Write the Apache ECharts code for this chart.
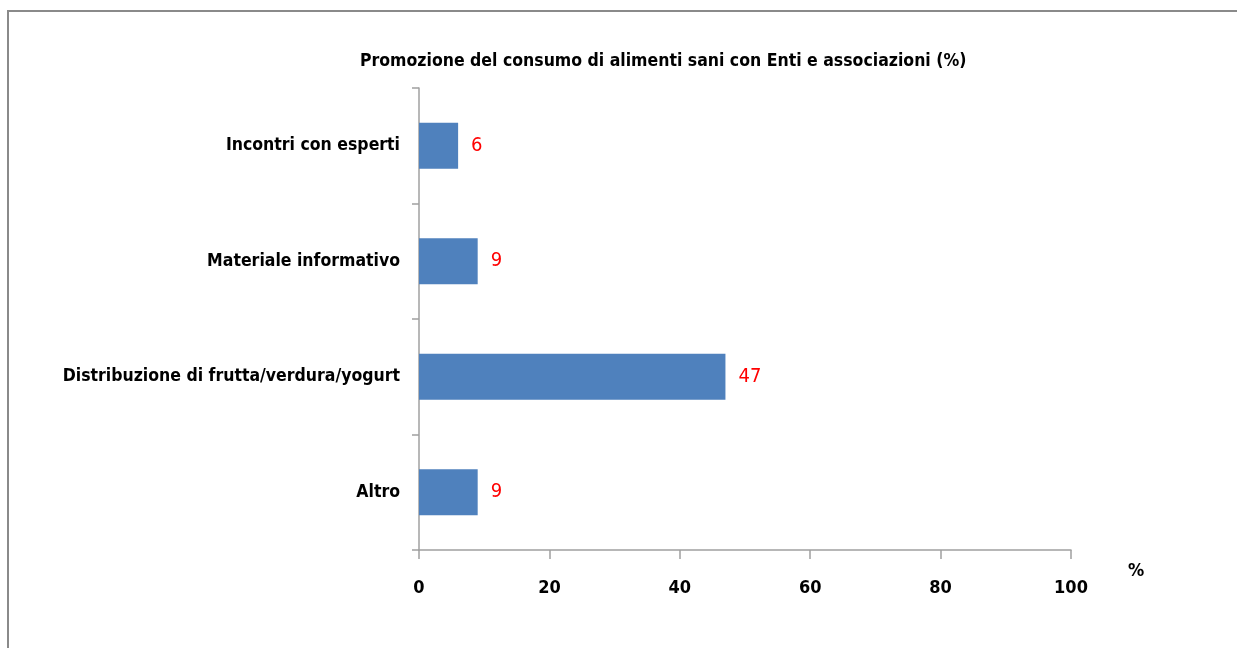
<!DOCTYPE html>
<html>
<head>
<meta charset="utf-8">
<script src="https://cdn.jsdelivr.net/npm/echarts@6/dist/echarts.min.js"></script>
<style>
    html, body { margin: 0; padding: 0; background: #fff; }
    #frame { position: absolute; left: 7px; top: 10px; width: 1240px; height: 650px;
             border-left: 2px solid #8a8a8a; border-top: 2px solid #8a8a8a; }
    #chart { position: absolute; left: 0; top: 0; width: 1237px; height: 648px; }
</style>
</head>
<body>
<div id="frame"></div>
<div id="chart"></div>
<script>
    // valori
    var categories = ['Incontri con esperti', 'Materiale informativo', 'Distribuzione di frutta/verdura/yogurt', 'Altro'];
    var values = [6, 9, 47, 9];
    var titleText = 'Promozione del consumo di alimenti sani con Enti e associazioni (%)';
    var unitText = '%';

    var font = '"DejaVu Sans Condensed", "Liberation Sans Narrow", sans-serif';
    var axisGrey = '#a0a0a0';

    var myChart = echarts.init(document.getElementById('chart'));
    var option = {
        animation: false,
        title: {
            text: titleText,
            left: 355,
            top: 47,
            textStyle: { fontFamily: font, fontSize: 17.5, fontWeight: 'bold', color: '#000' }
        },
        grid: { left: 419, right: 166, top: 88, bottom: 98 },
        graphic: [
            {
                type: 'text',
                left: 1128,
                top: 562,
                style: { text: unitText, fontFamily: font, fontSize: 18, fontWeight: 'bold', fill: '#000' }
            }
        ],
        xAxis: {
            type: 'value',
            min: 0,
            max: 100,
            interval: 20,
            axisLine: { show: true, lineStyle: { color: axisGrey, width: 1.5 } },
            axisTick: { show: true, length: 9, lineStyle: { color: axisGrey, width: 1.5 } },
            axisLabel: { margin: 29, fontFamily: font, fontSize: 18, fontWeight: 'bold', color: '#000' },
            splitLine: { show: false }
        },
        yAxis: {
            type: 'category',
            inverse: true,
            data: categories,
            axisLine: { show: true, lineStyle: { color: axisGrey, width: 1.5 } },
            axisTick: { show: true, length: 7, alignWithLabel: false, lineStyle: { color: axisGrey, width: 1.5 } },
            axisLabel: { margin: 19, fontFamily: font, fontSize: 17.5, fontWeight: 'bold', color: '#000' }
        },
        series: [
            {
                type: 'bar',
                data: values,
                barWidth: '40%',
                itemStyle: { color: '#4f81bd' },
                label: {
                    show: true,
                    position: 'right',
                    distance: 13,
                    fontFamily: font,
                    fontSize: 20,
                    color: '#ff0000'
                }
            }
        ]
    };
    myChart.setOption(option);
</script>
</body>
</html>
